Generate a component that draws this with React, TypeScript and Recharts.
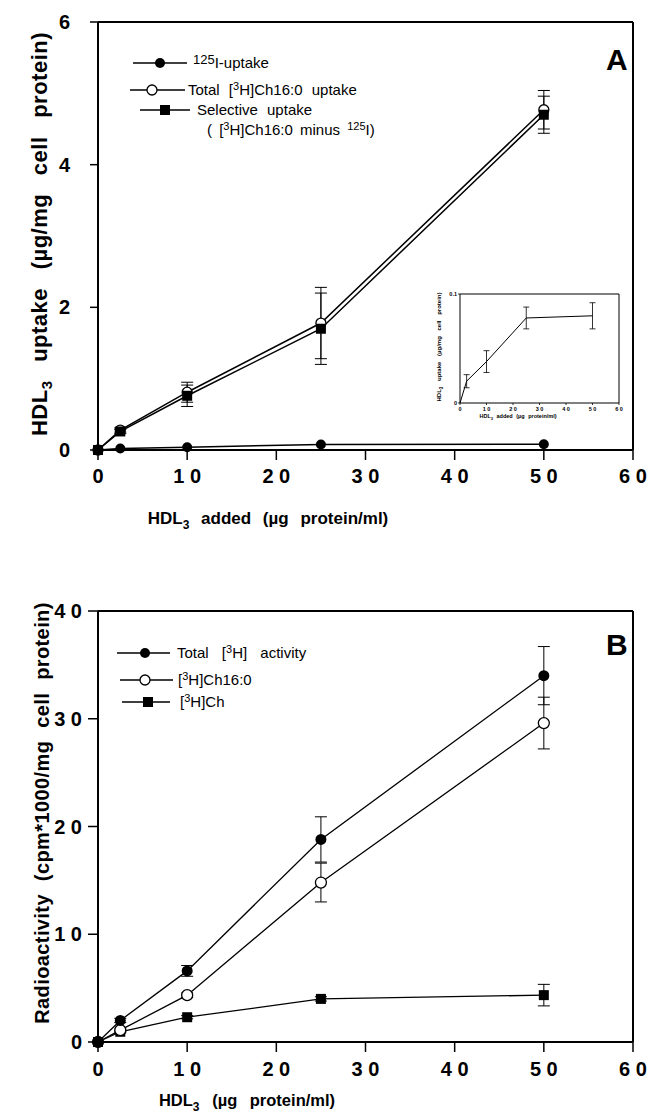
import React from 'react';
import { LineChart, Line, XAxis, YAxis, ErrorBar, ReferenceLine } from 'recharts';

const FONT = "'Liberation Sans', Arial, Helvetica, sans-serif";

// shared x values (HDL3 added, µg protein/ml)
const xValues = [0, 2.5, 10, 25, 50];

// Panel A
const iodineUptake = [0, 0.02, 0.038, 0.078, 0.08];
const iodineErr = [0, 0.006, 0.01, 0.01, 0.012];
const totalUptake = [0, 0.28, 0.81, 1.78, 4.77];
const totalUptakeErr = [0, 0.03, 0.14, 0.5, 0.27];
const selectiveUptake = [0, 0.26, 0.76, 1.7, 4.7];
const selectiveErr = [0, 0.03, 0.15, 0.5, 0.26];

// Panel B
const totalActivity = [0, 2.0, 6.6, 18.8, 34.0];
const totalActivityErr = [0, 0.2, 0.5, 2.1, 2.7];
const ch160 = [0, 1.1, 4.35, 14.8, 29.6];
const ch160Err = [0, 0.1, 0.2, 1.8, 2.4];
const chFree = [0, 0.95, 2.3, 4.0, 4.35];
const chFreeErr = [0, 0.1, 0.15, 0.2, 1.0];

// ticks
const xTicks = [0, 10, 20, 30, 40, 50, 60];
const xTickLabels = ['0', '1 0', '2 0', '3 0', '4 0', '5 0', '6 0'];
const yTicksA = [0, 2, 4, 6];
const yTickLabelsA = ['0', '2', '4', '6'];
const yTicksB = [0, 10, 20, 30, 40];
const yTickLabelsB = ['0', '1 0', '2 0', '3 0', '4 0'];
const yTicksInset = [0, 0.1];
const yTickLabelsInset = ['0', '0.1'];

const dataA = xValues.map((x, i) => ({
  x,
  iodine: iodineUptake[i],
  iodineErr: iodineErr[i],
  total: totalUptake[i],
  totalErr: totalUptakeErr[i],
  selective: selectiveUptake[i],
  selectiveErr: selectiveErr[i],
}));

const dataB = xValues.map((x, i) => ({
  x,
  total: totalActivity[i],
  totalErr: totalActivityErr[i],
  ch160: ch160[i],
  ch160Err: ch160Err[i],
  ch: chFree[i],
  chErr: chFreeErr[i],
}));

const lbl = (ticks: number[], labels: string[]) => (v: number) => {
  const i = ticks.findIndex((t) => Math.abs(t - v) < 1e-9);
  return i >= 0 ? labels[i] : String(v);
};

const filledDot = (r: number) => (p: any) => {
  if (p.cx == null || p.cy == null) return <g key={`f${p.index}`} />;
  return <circle key={`f${p.index}`} cx={p.cx} cy={p.cy} r={r} fill="#000" stroke="none" />;
};
const openDot = (r: number) => (p: any) => {
  if (p.cx == null || p.cy == null) return <g key={`o${p.index}`} />;
  return <circle key={`o${p.index}`} cx={p.cx} cy={p.cy} r={r} fill="#fff" stroke="#000" strokeWidth={1.3} />;
};
const squareDot = (s: number) => (p: any) => {
  if (p.cx == null || p.cy == null) return <g key={`s${p.index}`} />;
  return <rect key={`s${p.index}`} x={p.cx - s / 2} y={p.cy - s / 2} width={s} height={s} fill="#000" />;
};

const tickStyle = { fontSize: 20, fontWeight: 700, fill: '#000', fontFamily: FONT };
const axisLine = { stroke: '#000', strokeWidth: 2 };
const tickLine = { stroke: '#000', strokeWidth: 1.5 };

function ChartA() {
  return (
    <LineChart width={652} height={540} data={dataA} margin={{ top: 22, right: 19, bottom: 30, left: 38 }}>
      <XAxis
        dataKey="x"
        type="number"
        domain={[0, 60]}
        ticks={xTicks}
        interval={0}
        tickFormatter={lbl(xTicks, xTickLabels)}
        tick={tickStyle}
        axisLine={axisLine}
        tickLine={tickLine}
        tickSize={10}
        tickMargin={9}
        height={60}
      />
      <YAxis
        type="number"
        domain={[0, 6]}
        ticks={yTicksA}
        interval={0}
        tickFormatter={lbl(yTicksA, yTickLabelsA)}
        tick={tickStyle}
        axisLine={axisLine}
        tickLine={tickLine}
        tickSize={8}
        tickMargin={20}
        width={60}
      />
      <ReferenceLine y={6} stroke="#000" strokeWidth={2} />
      <ReferenceLine x={60} stroke="#000" strokeWidth={2} />
      <Line dataKey="iodine" stroke="#000" strokeWidth={1.5} dot={filledDot(5)} isAnimationActive={false} />
      <Line dataKey="total" stroke="#000" strokeWidth={1.5} dot={openDot(5)} isAnimationActive={false}>
        <ErrorBar dataKey="totalErr" width={6} stroke="#000" strokeWidth={1} direction="y" />
      </Line>
      <Line dataKey="selective" stroke="#000" strokeWidth={1.5} dot={squareDot(10)} isAnimationActive={false}>
        <ErrorBar dataKey="selectiveErr" width={6} stroke="#000" strokeWidth={1} direction="y" />
      </Line>
    </LineChart>
  );
}

const insetTick = { fontSize: 5.5, fontWeight: 700, fill: '#000', fontFamily: FONT };

function InsetA() {
  return (
    <LineChart width={230} height={160} data={dataA} margin={{ top: 24, right: 11, bottom: 12, left: 20 }}>
      <XAxis
        dataKey="x"
        type="number"
        domain={[0, 60]}
        ticks={xTicks}
        interval={0}
        tickFormatter={lbl(xTicks, xTickLabels)}
        tick={insetTick}
        axisLine={{ stroke: '#000', strokeWidth: 1 }}
        tickLine={{ stroke: '#000', strokeWidth: 0.8 }}
        tickSize={2}
        tickMargin={2}
        height={15}
      />
      <YAxis
        type="number"
        domain={[0, 0.1]}
        ticks={yTicksInset}
        interval={0}
        tickFormatter={lbl(yTicksInset, yTickLabelsInset)}
        tick={insetTick}
        axisLine={{ stroke: '#000', strokeWidth: 1 }}
        tickLine={{ stroke: '#000', strokeWidth: 0.8 }}
        tickSize={2}
        tickMargin={1}
        width={40}
      />
      <ReferenceLine y={0.1} stroke="#000" strokeWidth={1} />
      <ReferenceLine x={60} stroke="#000" strokeWidth={1} />
      <Line dataKey="iodine" stroke="#000" strokeWidth={1} dot={false} isAnimationActive={false}>
        <ErrorBar dataKey="iodineErr" width={3} stroke="#000" strokeWidth={0.8} direction="y" />
      </Line>
    </LineChart>
  );
}

function ChartB() {
  return (
    <LineChart width={652} height={557} data={dataB} margin={{ top: 51, right: 19, bottom: 25, left: 38 }}>
      <XAxis
        dataKey="x"
        type="number"
        domain={[0, 60]}
        ticks={xTicks}
        interval={0}
        tickFormatter={lbl(xTicks, xTickLabels)}
        tick={tickStyle}
        axisLine={axisLine}
        tickLine={tickLine}
        tickSize={10}
        tickMargin={10}
        height={50}
      />
      <YAxis
        type="number"
        domain={[0, 40]}
        ticks={yTicksB}
        interval={0}
        tickFormatter={lbl(yTicksB, yTickLabelsB)}
        tick={tickStyle}
        axisLine={axisLine}
        tickLine={tickLine}
        tickSize={10}
        tickMargin={6}
        width={60}
      />
      <ReferenceLine y={40} stroke="#000" strokeWidth={2} />
      <ReferenceLine x={60} stroke="#000" strokeWidth={2} />
      <Line dataKey="ch" stroke="#000" strokeWidth={1.3} dot={squareDot(10)} isAnimationActive={false}>
        <ErrorBar dataKey="chErr" width={6} stroke="#000" strokeWidth={1} direction="y" />
      </Line>
      <Line dataKey="ch160" stroke="#000" strokeWidth={1.3} dot={openDot(5.5)} isAnimationActive={false}>
        <ErrorBar dataKey="ch160Err" width={6} stroke="#000" strokeWidth={1} direction="y" />
      </Line>
      <Line dataKey="total" stroke="#000" strokeWidth={1.3} dot={filledDot(5.5)} isAnimationActive={false}>
        <ErrorBar dataKey="totalErr" width={6} stroke="#000" strokeWidth={1} direction="y" />
      </Line>
    </LineChart>
  );
}

function Overlay() {
  const lt = { fontFamily: FONT, fontSize: 15, fill: '#000', wordSpacing: '5px' } as any;
  const ax = { fontFamily: FONT, fontWeight: 700, fill: '#000' } as any;
  return (
    <svg width={652} height={1117} style={{ position: 'absolute', left: 0, top: 0, pointerEvents: 'none' }}>
      {/* Panel letters */}
      <text x={606} y={70} style={{ ...ax, fontSize: 30 }}>A</text>
      <text x={606} y={655} style={{ ...ax, fontSize: 30 }}>B</text>

      {/* Legend A */}
      <line x1={133} y1={63} x2={187} y2={63} stroke="#000" strokeWidth={1.3} />
      <circle cx={160} cy={63} r={5} fill="#000" />
      <text x={193} y={68} style={lt}>
        <tspan fontSize={13} dy={-4}>125</tspan>
        <tspan dy={4}>I-uptake</tspan>
      </text>
      <line x1={130} y1={90} x2={185} y2={90} stroke="#000" strokeWidth={1.3} />
      <circle cx={152} cy={90} r={5} fill="#fff" stroke="#000" strokeWidth={1.3} />
      <text x={188} y={95} style={lt}>
        Total [<tspan fontSize={11} dy={-5}>3</tspan><tspan dy={5}>H]Ch16:0 uptake</tspan>
      </text>
      <line x1={140} y1={110} x2={190} y2={110} stroke="#000" strokeWidth={1.3} />
      <rect x={160} y={105} width={10} height={10} fill="#000" />
      <text x={197} y={115} style={lt}>Selective uptake</text>
      <text x={207} y={135} style={{ ...lt, wordSpacing: '3px' }}>
        ( [<tspan fontSize={11} dy={-5}>3</tspan><tspan dy={5}>H]Ch16:0 minus </tspan>
        <tspan fontSize={11} dy={-5}>125</tspan><tspan dy={5}>I)</tspan>
      </text>

      {/* Axis labels A */}
      <text x={268} y={524} textAnchor="middle" style={{ ...ax, fontSize: 17, wordSpacing: '7px' }}>
        HDL<tspan fontSize={12} dy={5}>3</tspan><tspan dy={-5}> added (µg protein/ml)</tspan>
      </text>
      <text x={47} y={234} textAnchor="middle" transform="rotate(-90 47 234)" style={{ ...ax, fontSize: 22, letterSpacing: '0.5px', wordSpacing: '12px' }}>
        HDL<tspan fontSize={15} dy={5}>3</tspan><tspan dy={-5}> uptake (µg/mg cell protein)</tspan>
      </text>

      {/* Inset labels */}
      <text x={518} y={418} textAnchor="middle" style={{ ...ax, fontSize: 5.5, wordSpacing: '2px' }}>
        HDL<tspan fontSize={4} dy={1.5}>3</tspan><tspan dy={-1.5}> added (µg protein/ml)</tspan>
      </text>
      <text x={441} y={347} textAnchor="middle" transform="rotate(-90 441 347)" style={{ ...ax, fontSize: 6, wordSpacing: '4px' }}>
        HDL<tspan fontSize={4.5} dy={1.5}>3</tspan><tspan dy={-1.5}> uptake (µg/mg cell protein)</tspan>
      </text>

      {/* Legend B */}
      <line x1={117} y1={653} x2={170} y2={653} stroke="#000" strokeWidth={1.3} />
      <circle cx={145} cy={653} r={5} fill="#000" />
      <text x={177} y={658} style={{ ...lt, wordSpacing: '9px' }}>
        Total [<tspan fontSize={11} dy={-5}>3</tspan><tspan dy={5}>H] activity</tspan>
      </text>
      <line x1={120} y1={680} x2={173} y2={680} stroke="#000" strokeWidth={1.3} />
      <circle cx={145} cy={680} r={5} fill="#fff" stroke="#000" strokeWidth={1.3} />
      <text x={178} y={685} style={lt}>
        [<tspan fontSize={11} dy={-5}>3</tspan><tspan dy={5}>H]Ch16:0</tspan>
      </text>
      <line x1={122} y1={702} x2={170} y2={702} stroke="#000" strokeWidth={1.3} />
      <rect x={143} y={697} width={10} height={10} fill="#000" />
      <text x={180} y={707} style={lt}>
        [<tspan fontSize={11} dy={-5}>3</tspan><tspan dy={5}>H]Ch</tspan>
      </text>

      {/* Axis labels B */}
      <text x={247} y={1106} textAnchor="middle" style={{ ...ax, fontSize: 16.5, wordSpacing: '8px' }}>
        HDL<tspan fontSize={12} dy={5}>3</tspan><tspan dy={-5}> (µg protein/ml)</tspan>
      </text>
      <text x={49} y={813} textAnchor="middle" transform="rotate(-90 49 813)" style={{ ...ax, fontSize: 20, letterSpacing: '0.4px', wordSpacing: '7px' }}>
        Radioactivity (cpm*1000/mg cell protein)
      </text>
    </svg>
  );
}

export default function App() {
  return (
    <div style={{ position: 'absolute', left: 0, top: 0, width: 652, height: 1117, background: '#fff', overflow: 'hidden' }}>
      <div style={{ position: 'absolute', left: 0, top: 0 }}>
        <ChartA />
      </div>
      <div style={{ position: 'absolute', left: 400, top: 270 }}>
        <InsetA />
      </div>
      <div style={{ position: 'absolute', left: 0, top: 560 }}>
        <ChartB />
      </div>
      <Overlay />
    </div>
  );
}
